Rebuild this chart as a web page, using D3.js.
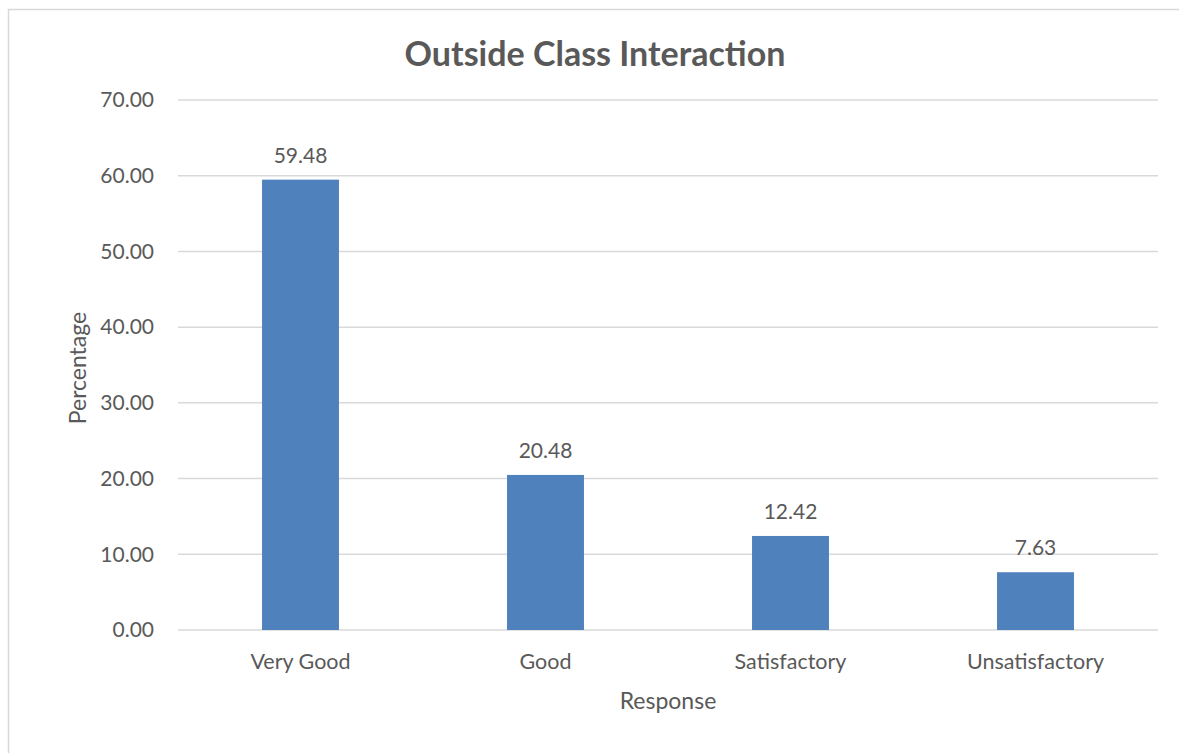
<!DOCTYPE html>
<html>
<head>
<meta charset="utf-8">
<script src="https://cdn.jsdelivr.net/npm/d3@7"></script>
<style>
  body { margin: 0; background: #fff; }
  text { font-family: Lato, "Open Sans", sans-serif; fill: #595959; }
</style>
</head>
<body>
<svg id="chart" width="1179" height="753"></svg>
<script>
const categories = ["Very Good", "Good", "Satisfactory", "Unsatisfactory"];
const values = [59.48, 20.48, 12.42, 7.63];
const yTicks = [0, 10, 20, 30, 40, 50, 60, 70];

const svg = d3.select("#chart");
const margin = { left: 178, right: 21, top: 100, bottom: 123 };
const width = 1179, height = 753;

// chart border (runs off the right and bottom edge)
svg.append("rect")
  .attr("x", 8.5).attr("y", 9.5)
  .attr("width", 1180).attr("height", 760)
  .attr("fill", "none")
  .attr("stroke", "#d9d9d9")
  .attr("stroke-width", 1.5);

const x = d3.scaleBand()
  .domain(categories)
  .range([margin.left, width - margin.right])
  .paddingInner(0.686)
  .paddingOuter(0.343);

const y = d3.scaleLinear().domain([0, 70]).range([height - margin.bottom, margin.top]);

// gridlines
svg.append("g")
  .selectAll("line")
  .data(yTicks)
  .enter()
  .append("line")
  .attr("x1", margin.left)
  .attr("x2", width - margin.right)
  .attr("y1", (d) => y(d))
  .attr("y2", (d) => y(d))
  .attr("stroke", "#d9d9d9")
  .attr("stroke-width", 1.5);

// y axis labels
const yAxis = svg.append("g")
  .attr("transform", `translate(${margin.left},0)`)
  .call(d3.axisLeft(y).tickValues(yTicks).tickFormat(d3.format(".2f")).tickSize(0).tickPadding(24));
yAxis.select(".domain").remove();
yAxis.selectAll("text").style("font-size", "21px").attr("fill", "#595959");

// x axis labels
const xAxis = svg.append("g")
  .attr("transform", `translate(0,${y(0)})`)
  .call(d3.axisBottom(x).tickSize(0).tickPadding(24));
xAxis.select(".domain").remove();
xAxis.selectAll("text").style("font-size", "21.5px").attr("fill", "#595959");

// bars
svg.append("g")
  .selectAll(".bar")
  .data(values)
  .enter()
  .append("rect")
  .classed("bar", true)
  .attr("x", (d, i) => x(categories[i]))
  .attr("width", x.bandwidth())
  .attr("y", (d) => y(d))
  .attr("height", (d) => y(0) - y(d))
  .attr("fill", "#4f81bd");

// value labels
svg.append("g")
  .selectAll("text")
  .data(values)
  .enter()
  .append("text")
  .attr("x", (d, i) => x(categories[i]) + x.bandwidth() / 2)
  .attr("y", (d) => y(d) - 17)
  .attr("text-anchor", "middle")
  .style("font-size", "21px")
  .text((d) => d.toFixed(2));

// title
svg.append("text")
  .attr("x", 595)
  .attr("y", 66)
  .attr("text-anchor", "middle")
  .style("font-size", "34px")
  .style("font-weight", "bold")
  .text("Outside Class Interaction");

// axis titles
svg.append("text")
  .attr("transform", "translate(86,368) rotate(-90)")
  .attr("text-anchor", "middle")
  .style("font-size", "23px")
  .text("Percentage");

svg.append("text")
  .attr("x", (margin.left + width - margin.right) / 2)
  .attr("y", 709)
  .attr("text-anchor", "middle")
  .style("font-size", "23px")
  .text("Response");
</script>
</body>
</html>
